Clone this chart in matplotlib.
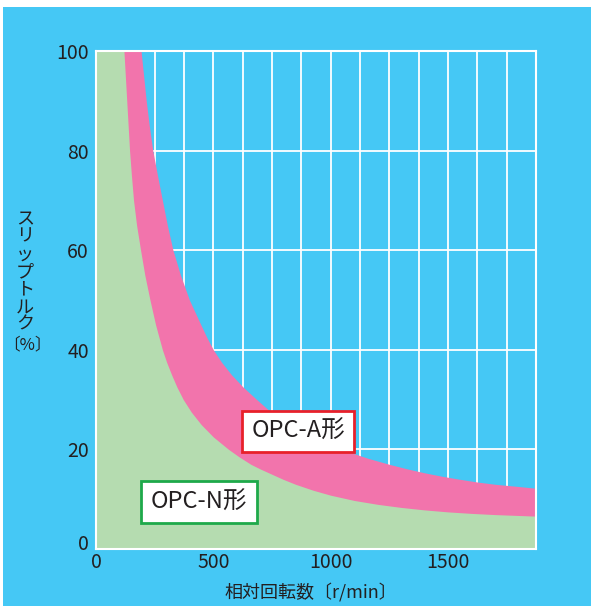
import matplotlib
matplotlib.use("Agg")
import matplotlib.pyplot as plt
import matplotlib.transforms as mtransforms
from matplotlib.patches import Rectangle

plt.rcParams["font.family"] = ["Noto Sans CJK JP", "DejaVu Sans"]

# relative speed (r/min) vs slip torque (%), upper edge of OPC-A band
speed_a = [0, 192, 203, 214, 227, 242, 262, 283, 304, 328, 360, 398, 447, 472,
           500, 535, 577, 627, 685, 733, 785, 835, 890, 940, 990, 1070, 1160,
           1250, 1325, 1400, 1475, 1550, 1625, 1700, 1790, 1875]
torque_a = [100, 100, 95, 90, 85, 80, 75, 70, 65, 60, 55, 50, 45, 42.5,
            40, 37.5, 35, 32.5, 30, 28, 26, 24.5, 23, 21.9, 21, 19.6, 18.2,
            17, 16.1, 15.3, 14.6, 14.0, 13.45, 13.0, 12.6, 12.2]

# upper edge of OPC-N area
speed_n = [0, 119, 131, 143, 151, 160, 173, 190, 208, 230, 254, 283, 301, 322,
           345, 372, 406, 448, 500, 565, 610, 660, 703, 750, 797, 850, 925,
           1000, 1100, 1200, 1300, 1400, 1500, 1600, 1700, 1875]
torque_n = [100, 100, 90, 80, 75, 70, 65, 60, 55, 50, 45, 40, 37.5, 35,
            32.5, 30, 27.5, 25, 22.5, 20, 18.5, 17, 16, 15, 14, 13, 11.8,
            10.8, 9.75, 8.97, 8.35, 7.85, 7.45, 7.15, 6.91, 6.6]

x_ticks = [0, 500, 1000, 1500]
y_ticks = [0, 20, 40, 60, 80, 100]

BLUE = "#45C8F5"
PINK = "#F274AC"
GREEN = "#B5DCB0"
TXT = "#231F20"

fig = plt.figure(figsize=(5.91, 6.06), dpi=100, facecolor="white")
fig.patches.append(Rectangle((3 / 591, 0), 1, 599 / 606, transform=fig.transFigure,
                             facecolor=BLUE, edgecolor="none", zorder=-10))

ax = fig.add_axes([96 / 591, 57 / 606, 440 / 591, 498 / 606])
ax.set_facecolor(BLUE)
ax.set_axisbelow(True)

ax.fill_between(speed_a, 0, torque_a, color=PINK, lw=0, zorder=1)
ax.fill_between(speed_n, 0, torque_n, color=GREEN, lw=0, zorder=1.1)

ax.set_xlim(0, 1875)
ax.set_ylim(0, 100)
ax.set_xticks(x_ticks)
ax.set_xticks(range(0, 1876, 125), minor=True)
ax.set_yticks(y_ticks)
ax.grid(True, which="both", color="white", lw=1.3)
ax.tick_params(which="both", length=0, colors=TXT, labelsize=14)
ax.tick_params(axis="x", pad=2)
ax.tick_params(axis="y", pad=5)
for s in ax.spines.values():
    s.set_color("white")
    s.set_linewidth(1.5)

# the "0" label sits a little higher than the axis bottom
lbl0 = ax.get_yticklabels()[0]
lbl0.set_transform(mtransforms.offset_copy(lbl0.get_transform(), fig=fig, x=0, y=7, units="dots"))

ax.text(861, 23.6, "OPC-A形", fontsize=17, color=TXT, ha="center", va="center", zorder=5,
        bbox=dict(boxstyle="square,pad=0.4", fc="white", ec="#E8202A", lw=2))
ax.text(439, 9.4, "OPC-N形", fontsize=17, color=TXT, ha="center", va="center", zorder=5,
        bbox=dict(boxstyle="square,pad=0.4", fc="white", ec="#1EA94A", lw=2))

fig.text(25 / 591, 1 - 272 / 606, "\n".join("スリップトルク"), fontsize=13, color=TXT,
         ha="center", va="center", linespacing=0.97)
fig.text(27 / 591, 1 - 345 / 606, "〔%〕", fontsize=12, color=TXT, ha="center", va="center")
fig.text(311 / 591, 1 - 593 / 606, "相対回転数〔r/min〕", fontsize=13, color=TXT,
         ha="center", va="center")

fig.savefig("out.png", dpi=100, facecolor=fig.get_facecolor())
